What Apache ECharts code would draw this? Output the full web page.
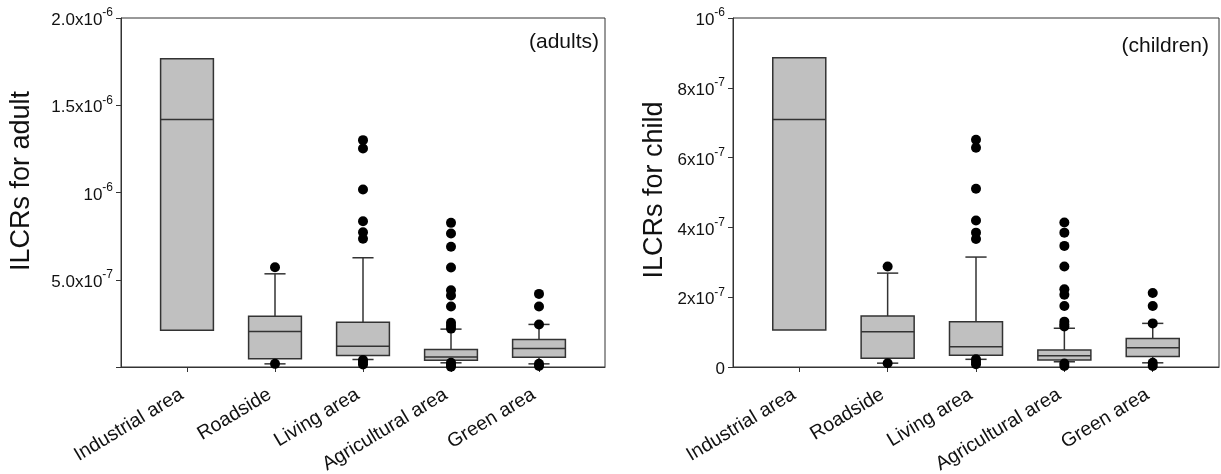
<!DOCTYPE html>
<html>
<head>
<meta charset="utf-8">
<script src="https://cdn.jsdelivr.net/npm/echarts@6/dist/echarts.min.js"></script>
<style>
html,body{margin:0;padding:0;background:#fff;}
#c{width:1221px;height:474px;}
</style>
</head>
<body>
<div id="c"></div>
<script>
// ---------- data ----------
const categories = ['Industrial area', 'Roadside', 'Living area', 'Agricultural area', 'Green area'];
const categoryPositions = [1, 2, 3, 4, 5];

// adults
const adultLowWhisker  = [null, 1.8e-8, 4.3e-8, 2.4e-8, 1.8e-8];
const adultQ1          = [2.11e-7, 4.7e-8, 6.6e-8, 3.9e-8, 5.6e-8];
const adultMedian      = [1.418e-6, 2.03e-7, 1.19e-7, 5.8e-8, 1.06e-7];
const adultQ3          = [1.766e-6, 2.91e-7, 2.57e-7, 1.0e-7, 1.58e-7];
const adultHighWhisker = [null, 5.34e-7, 6.26e-7, 2.17e-7, 2.44e-7];
const adultOutliers = [
  [],
  [5.72e-7, 1.8e-8],
  [1.30e-6, 1.252e-6, 1.017e-6, 8.35e-7, 7.72e-7, 7.35e-7, 4.0e-8, 2.8e-8, 1.5e-8],
  [8.26e-7, 7.65e-7, 6.89e-7, 5.70e-7, 4.40e-7, 4.10e-7, 3.47e-7, 2.53e-7, 2.37e-7, 2.2e-7, 2.4e-8, 1.2e-8, 2e-9],
  [4.19e-7, 3.47e-7, 2.44e-7, 1.8e-8, 6e-9]
];

// children
const childLowWhisker  = [null, 1.1e-8, 2.2e-8, 1.5e-8, 1.2e-8];
const childQ1          = [1.06e-7, 2.5e-8, 3.4e-8, 2.0e-8, 3.0e-8];
const childMedian      = [7.09e-7, 1.01e-7, 5.8e-8, 3.2e-8, 5.5e-8];
const childQ3          = [8.86e-7, 1.46e-7, 1.30e-7, 4.9e-8, 8.2e-8];
const childHighWhisker = [null, 2.69e-7, 3.15e-7, 1.11e-7, 1.25e-7];
const childOutliers = [
  [],
  [2.88e-7, 1.1e-8],
  [6.51e-7, 6.28e-7, 5.11e-7, 4.20e-7, 3.85e-7, 3.67e-7, 2.2e-8, 1.4e-8, 8e-9],
  [4.14e-7, 3.85e-7, 3.47e-7, 2.88e-7, 2.23e-7, 2.07e-7, 1.75e-7, 1.30e-7, 1.22e-7, 1.16e-7, 1.0e-8, 3e-9],
  [2.12e-7, 1.75e-7, 1.25e-7, 1.2e-8, 3e-9]
];

// axis ticks
const adultTickValues = [0, 5e-7, 1e-6, 1.5e-6, 2e-6];
const adultTickLabels = ['', '5.0x10^-7', '10^-6', '1.5x10^-6', '2.0x10^-6'];
const childTickValues = [0, 2e-7, 4e-7, 6e-7, 8e-7, 1e-6];
const childTickLabels = ['0', '2x10^-7', '4x10^-7', '6x10^-7', '8x10^-7', '10^-6'];

const adultTitle = 'ILCRs for adult';
const childTitle = 'ILCRs for child';
const adultTag = '(adults)';
const childTag = '(children)';

// ---------- helpers ----------
const FONT = 'Liberation Sans, Arial, sans-serif';
const INK = '#333';

function tickFormatter(values, labels) {
  return function (v) {
    let idx = -1;
    for (let i = 0; i < values.length; i++) {
      if (Math.abs(values[i] - v) < 1e-12) { idx = i; break; }
    }
    if (idx < 0) return '';
    const s = labels[idx];
    if (!s) return '';
    const parts = s.split('^');
    if (parts.length === 1) return '{m|' + parts[0] + '}';
    return '{m|' + parts[0] + '}{s|' + parts[1] + '}';
  };
}

function boxData(lo, q1, med, q3, hi) {
  return categoryPositions.map((x, i) => [x, lo[i], q1[i], med[i], q3[i], hi[i]]);
}
function outlierData(out) {
  const res = [];
  out.forEach((arr, i) => arr.forEach(v => res.push([categoryPositions[i], v])));
  return res;
}

function renderBox(params, api) {
  const x = api.value(0);
  const lo = api.value(1), q1 = api.value(2), med = api.value(3), q3 = api.value(4), hi = api.value(5);
  const unit = api.size([1, 0])[0];
  const half = unit * 0.3;
  const cap = unit * 0.12;
  const pQ1 = api.coord([x, q1]);
  const pQ3 = api.coord([x, q3]);
  const pMed = api.coord([x, med]);
  const cx = pQ1[0];
  const lineStyle = { stroke: INK, lineWidth: 1.5, fill: null };
  const children = [];
  if (!isNaN(hi) && hi != null) {
    const pHi = api.coord([x, hi]);
    children.push({ type: 'line', shape: { x1: cx, y1: pQ3[1], x2: cx, y2: pHi[1] }, style: lineStyle });
    children.push({ type: 'line', shape: { x1: cx - cap, y1: pHi[1], x2: cx + cap, y2: pHi[1] }, style: lineStyle });
  }
  if (!isNaN(lo) && lo != null) {
    const pLo = api.coord([x, lo]);
    children.push({ type: 'line', shape: { x1: cx, y1: pQ1[1], x2: cx, y2: pLo[1] }, style: lineStyle });
    children.push({ type: 'line', shape: { x1: cx - cap, y1: pLo[1], x2: cx + cap, y2: pLo[1] }, style: lineStyle });
  }
  children.push({
    type: 'rect',
    shape: { x: cx - half, y: pQ3[1], width: half * 2, height: pQ1[1] - pQ3[1] },
    style: { fill: '#c0c0c0', stroke: INK, lineWidth: 1.5 }
  });
  children.push({ type: 'line', shape: { x1: cx - half, y1: pMed[1], x2: cx + half, y2: pMed[1] }, style: lineStyle });
  return { type: 'group', children: children };
}

function xAxisCfg(gridIndex) {
  return {
    type: 'value', gridIndex: gridIndex, min: 0.25, max: 5.75,
    splitLine: { show: false },
    axisLine: { show: true, onZero: false, lineStyle: { color: INK, width: 1 } },
    axisTick: { show: true, customValues: categoryPositions, length: 5, lineStyle: { color: INK } },
    axisLabel: {
      customValues: categoryPositions, rotate: 31, margin: 23,
      fontSize: 19.5, color: '#111', fontFamily: FONT, padding: [0, 6, 0, 0],
      formatter: v => categories[Math.round(v) - 1] || ''
    }
  };
}
function yAxisCfg(gridIndex, max, interval, values, labels) {
  return {
    type: 'value', gridIndex: gridIndex, min: 0, max: max, interval: interval,
    splitLine: { show: false },
    axisLine: { show: true, lineStyle: { color: INK, width: 1 } },
    axisTick: { show: true, length: 5, lineStyle: { color: INK } },
    axisLabel: {
      margin: 8, color: '#111', fontFamily: FONT,
      formatter: tickFormatter(values, labels),
      rich: {
        m: { fontSize: 17, fontFamily: FONT, color: '#111', lineHeight: 22, verticalAlign: 'bottom' },
        s: { fontSize: 12, fontFamily: FONT, color: '#111', lineHeight: 12, verticalAlign: 'top' }
      }
    }
  };
}

const chart = echarts.init(document.getElementById('c'), null, { renderer: 'canvas' });
chart.setOption({
  animation: false,
  backgroundColor: '#fff',
  grid: [
    { left: 121, top: 18, width: 484, height: 349, containLabel: false, outerBoundsMode: 'none',
      show: true, borderColor: INK, borderWidth: 1, backgroundColor: 'transparent' },
    { left: 733, top: 18, width: 486, height: 349, containLabel: false, outerBoundsMode: 'none',
      show: true, borderColor: INK, borderWidth: 1, backgroundColor: 'transparent' }
  ],
  xAxis: [xAxisCfg(0), xAxisCfg(1)],
  yAxis: [
    yAxisCfg(0, 2e-6, 5e-7, adultTickValues, adultTickLabels),
    yAxisCfg(1, 1e-6, 2e-7, childTickValues, childTickLabels)
  ],
  series: [
    { type: 'custom', xAxisIndex: 0, yAxisIndex: 0, renderItem: renderBox, clip: false,
      data: boxData(adultLowWhisker, adultQ1, adultMedian, adultQ3, adultHighWhisker) },
    { type: 'scatter', xAxisIndex: 0, yAxisIndex: 0, symbol: 'circle', symbolSize: 10, clip: false,
      itemStyle: { color: '#000', opacity: 1 }, data: outlierData(adultOutliers), z: 5 },
    { type: 'custom', xAxisIndex: 1, yAxisIndex: 1, renderItem: renderBox, clip: false,
      data: boxData(childLowWhisker, childQ1, childMedian, childQ3, childHighWhisker) },
    { type: 'scatter', xAxisIndex: 1, yAxisIndex: 1, symbol: 'circle', symbolSize: 10, clip: false,
      itemStyle: { color: '#000', opacity: 1 }, data: outlierData(childOutliers), z: 5 }
  ],
  graphic: [
    { type: 'text', x: 22, y: 181, rotation: Math.PI / 2,
      style: { text: adultTitle, fontSize: 27, fontFamily: FONT, fill: '#111', textAlign: 'center', textVerticalAlign: 'middle' } },
    { type: 'text', x: 655, y: 190, rotation: Math.PI / 2,
      style: { text: childTitle, fontSize: 27, fontFamily: FONT, fill: '#111', textAlign: 'center', textVerticalAlign: 'middle' } },
    { type: 'text', x: 599, y: 42,
      style: { text: adultTag, fontSize: 21, fontFamily: FONT, fill: '#111', textAlign: 'right', textVerticalAlign: 'middle' } },
    { type: 'text', x: 1209, y: 46,
      style: { text: childTag, fontSize: 21, fontFamily: FONT, fill: '#111', textAlign: 'right', textVerticalAlign: 'middle' } }
  ]
});
</script>
</body>
</html>
